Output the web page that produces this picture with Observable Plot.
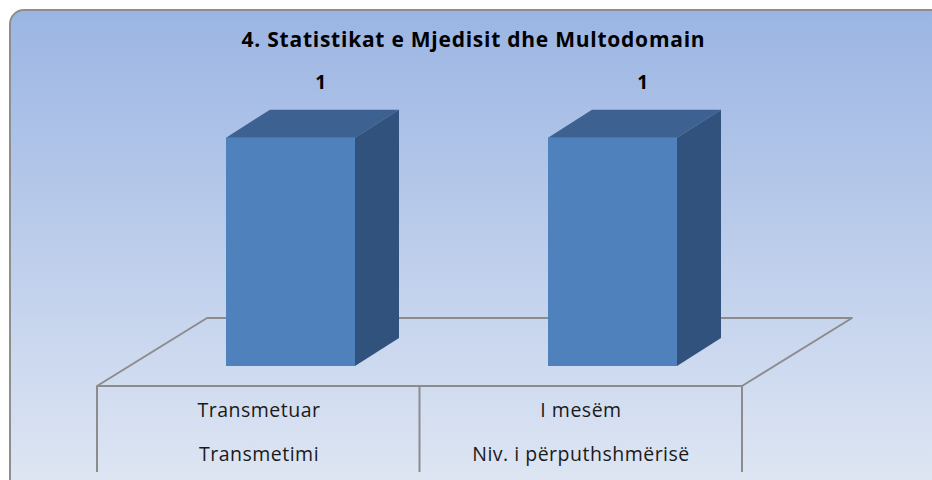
<!DOCTYPE html>
<html>
<head>
<meta charset="utf-8">
<script src="https://cdn.jsdelivr.net/npm/d3@7"></script>
<script src="https://cdn.jsdelivr.net/npm/@observablehq/plot@0.6"></script>
<style>
  html, body { margin: 0; padding: 0; background: #ffffff; }
  #wrap { position: relative; width: 932px; height: 480px; overflow: hidden; font-family: "Open Sans", sans-serif; }
  #frame { position: absolute; left: 9px; top: 9px; width: 940px; height: 500px; box-sizing: border-box;
           border: 2.5px solid #8e8e8e; border-radius: 15px;
           background: linear-gradient(to bottom, #9bb5e3 0px, #dde5f3 465px); }
  #title { position: absolute; left: 0; top: 29px; width: 947px; text-align: center; font-weight: 700;
           font-size: 21px; line-height: 21px; letter-spacing: 0.75px; color: #000; white-space: nowrap; }
  #chart { position: absolute; left: 0; top: 0; }
</style>
</head>
<body>
<div id="wrap">
  <div id="frame"></div>
  <div id="title">4. Statistikat e Mjedisit dhe Multodomain</div>
  <div id="chart"></div>
</div>
<script>
// ---- data ----
const categories = ["Transmetuar", "I mesëm"];
const subLabels = ["Transmetimi", "Niv. i përputhshmërisë"];
const values = [1, 1];
const yDomain = [0, 1.2];

const rows = categories.map((c, i) => ({cat: c, sub: subLabels[i], value: values[i]}));

// ---- 3D styling (pixel offsets) ----
const BAR_SHIFT = {dx: 32, dy: -20};   // bars sit inside the floor depth
const BAR_DEPTH = {dx: 44, dy: -28};
const FLOOR_DEPTH = {dx: 110, dy: -68};
const LINE = "#8c8c8c";

function floorMark(index, scales, values, dims) {
  const x0 = dims.marginLeft, x1 = dims.width - dims.marginRight, yb = dims.height - dims.marginBottom;
  const n = scales.x.domain().length;
  const g = d3.create("svg:g").attr("fill", "none").attr("stroke", LINE).attr("stroke-width", 2);
  g.append("path").attr("d",
    `M${x0},${yb}L${x1},${yb}L${x1 + FLOOR_DEPTH.dx},${yb + FLOOR_DEPTH.dy}L${x0 + FLOOR_DEPTH.dx},${yb + FLOOR_DEPTH.dy}Z`)
    .attr("stroke-linejoin", "round");
  for (let k = 0; k <= n; ++k) {
    const x = x0 + k * (x1 - x0) / n;
    g.append("line").attr("x1", x).attr("x2", x).attr("y1", yb).attr("y2", yb + 86);
  }
  return g.node();
}

function faces(topFill, sideFill) {
  return function(index, scales, values) {
    const bw = scales.x.bandwidth();
    const g = d3.create("svg:g");
    for (const i of index) {
      const xl = values.x[i] + BAR_SHIFT.dx, xr = xl + bw;
      const yt = Math.min(values.y1[i], values.y2[i]) + BAR_SHIFT.dy;
      const yb = Math.max(values.y1[i], values.y2[i]) + BAR_SHIFT.dy;
      const ddx = BAR_DEPTH.dx, ddy = BAR_DEPTH.dy;
      g.append("path").attr("fill", topFill)
        .attr("d", `M${xl},${yt}L${xr},${yt}L${xr + ddx},${yt + ddy}L${xl + ddx},${yt + ddy}Z`);
      g.append("path").attr("fill", sideFill)
        .attr("d", `M${xr},${yt}L${xr + ddx},${yt + ddy}L${xr + ddx},${yb + ddy}L${xr},${yb}Z`);
    }
    return g.node();
  };
}

const chart = Plot.plot({
  width: 932,
  height: 480,
  marginLeft: 97,
  marginRight: 190,
  marginTop: 112,
  marginBottom: 94,
  style: {background: "transparent", fontFamily: "Open Sans", overflow: "visible", letterSpacing: "0.5px"},
  x: {domain: categories, paddingInner: 0.6, paddingOuter: 0.3, axis: null},
  y: {domain: yDomain, axis: null},
  marks: [
    floorMark,
    Plot.barY(rows, {x: "cat", y: "value", fill: "#4f81bd", dx: BAR_SHIFT.dx, dy: BAR_SHIFT.dy}),
    Plot.barY(rows, {x: "cat", y: "value", render: faces("#3d6191", "#32527e")}),
    Plot.text(rows, {x: "cat", y: "value", text: d => String(d.value), dx: 62, dy: -75,
                     fontWeight: "bold", fontSize: 19, fill: "#000"}),
    Plot.text(rows, {x: "cat", text: "cat", frameAnchor: "bottom", dy: 30.5, fontSize: 19.5, fill: "#1a1a1a"}),
    Plot.text(rows, {x: "cat", text: "sub", frameAnchor: "bottom", dy: 74.5, fontSize: 19.5, fill: "#1a1a1a"})
  ]
});
document.getElementById("chart").appendChild(chart);
</script>
</body>
</html>
